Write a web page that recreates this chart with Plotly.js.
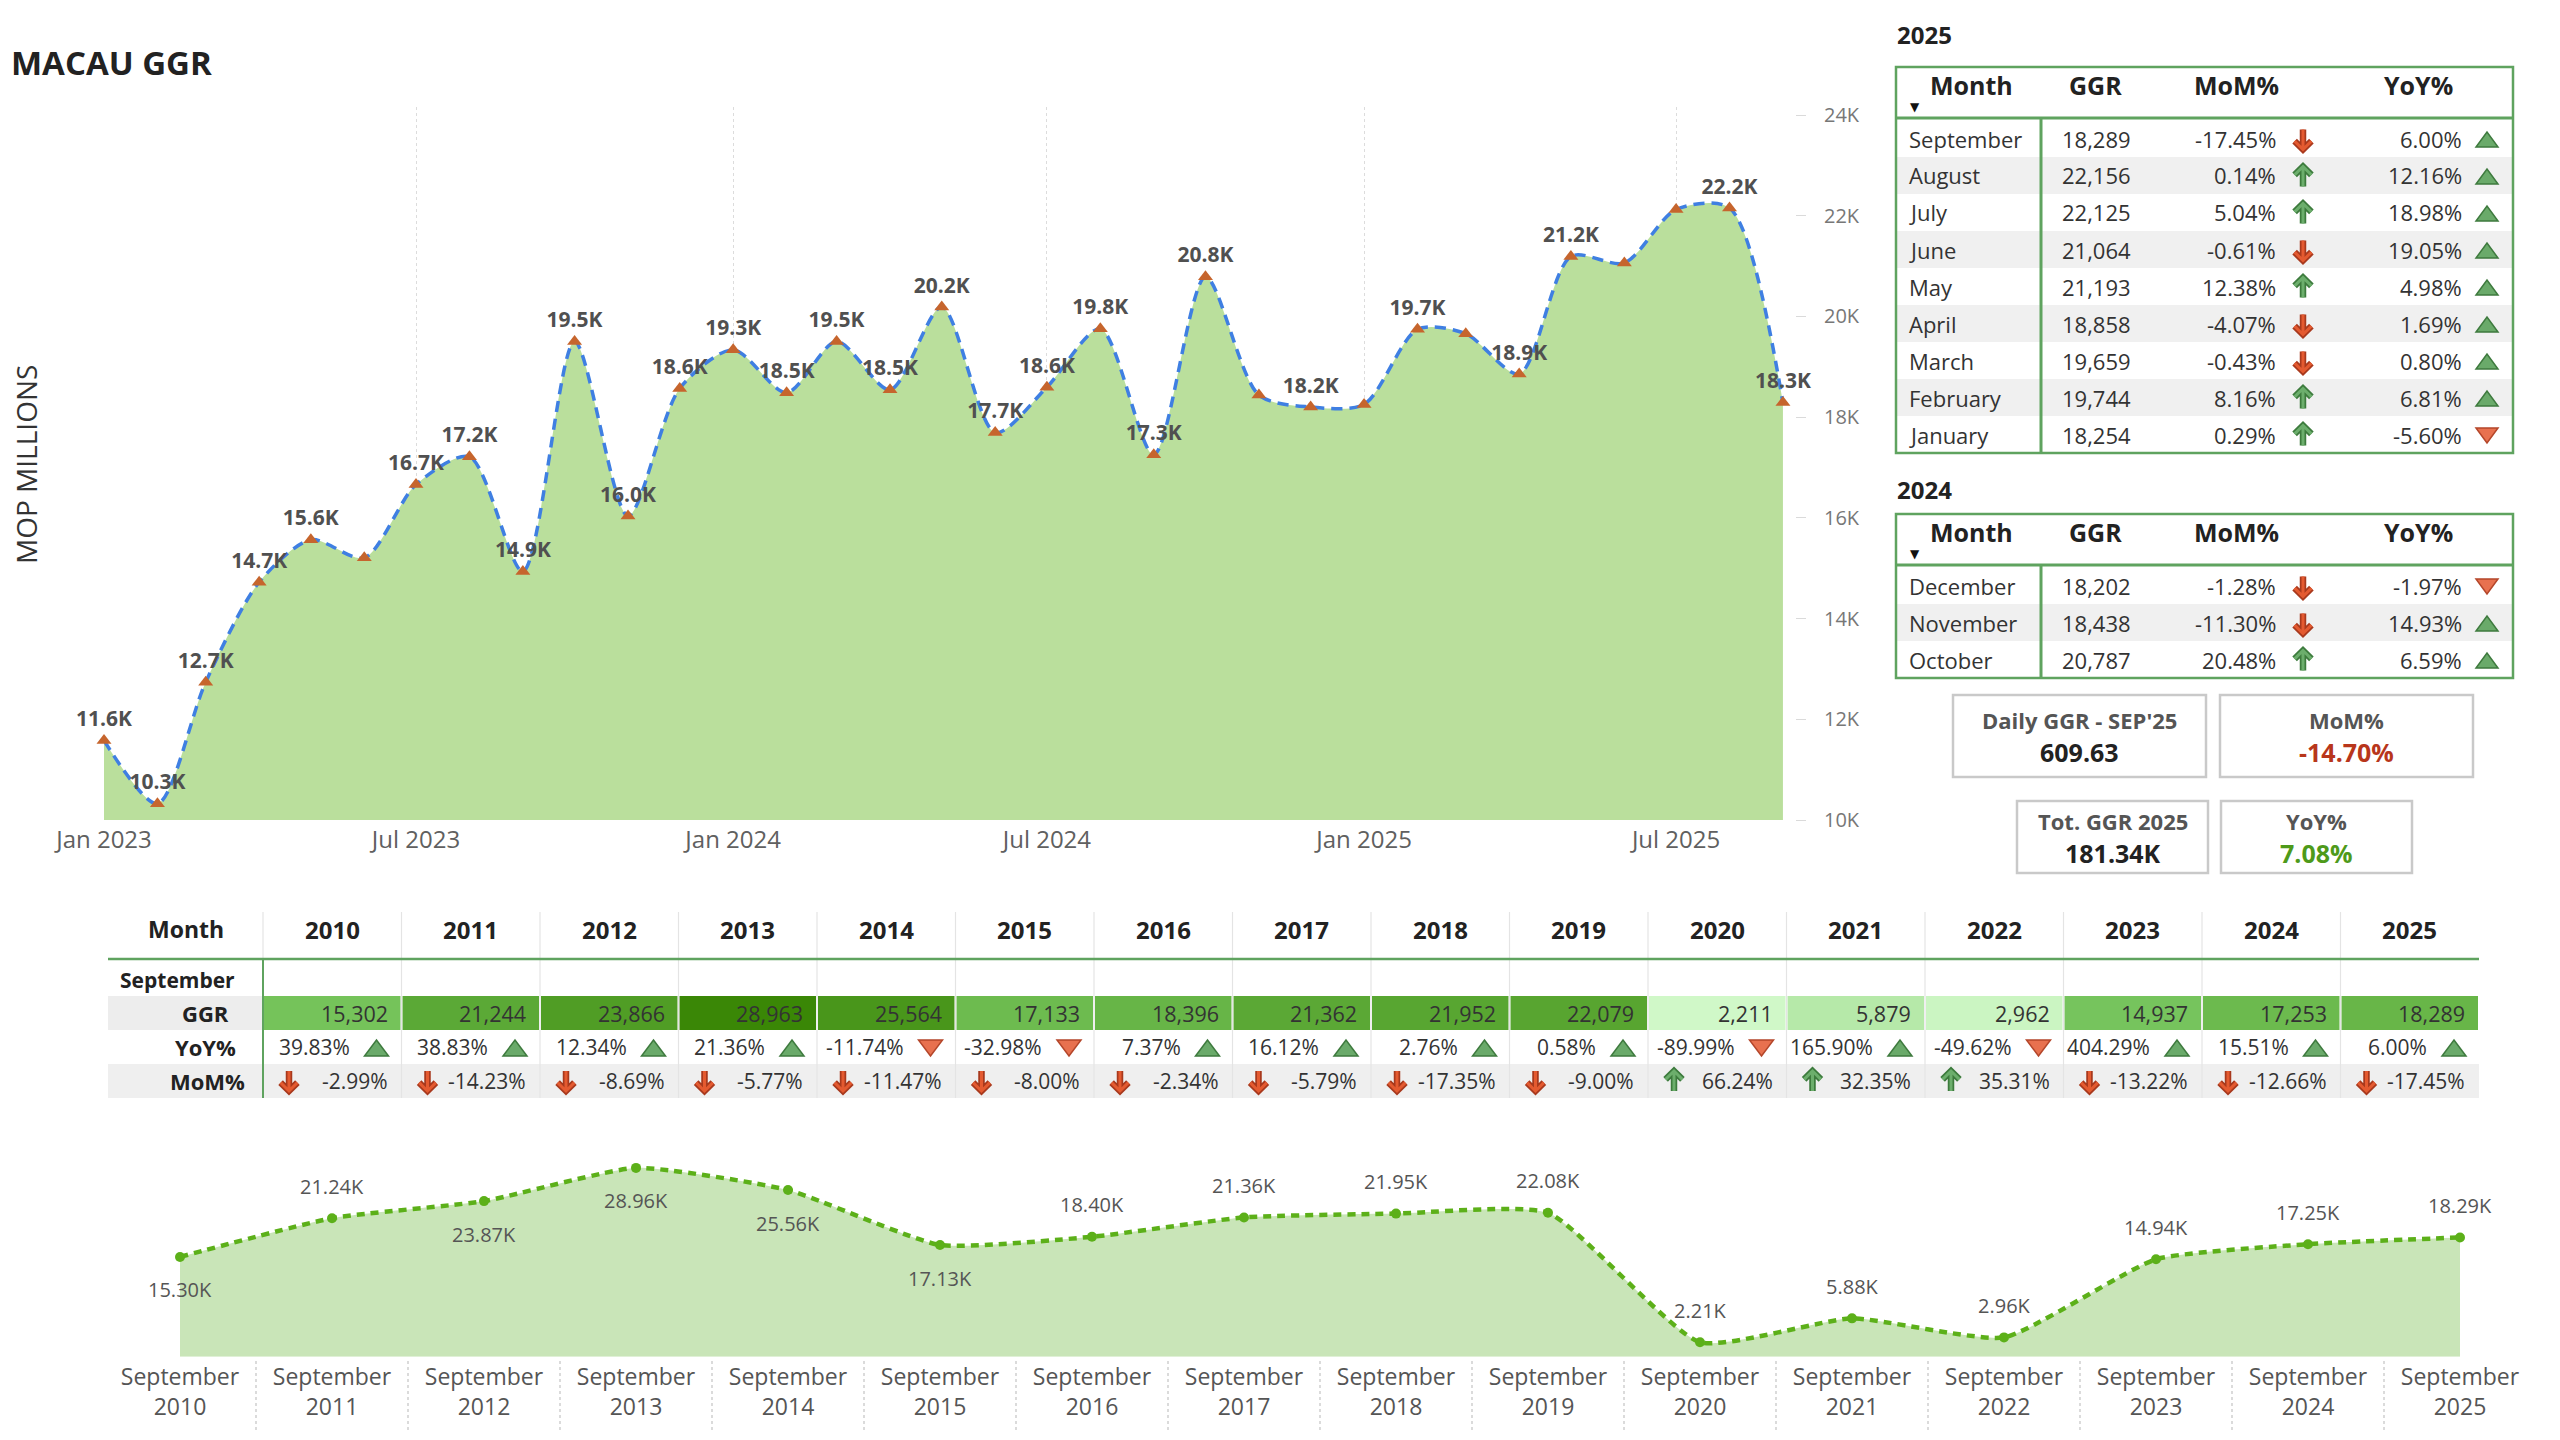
<!DOCTYPE html>
<html>
<head>
<meta charset="utf-8">
<script src="https://cdn.plot.ly/plotly-3.0.1.min.js"></script>
<style>
  html, body { margin: 0; padding: 0; background: #ffffff; }
  #dash { width: 2560px; height: 1440px; }
</style>
</head>
<body>
<div id="dash"></div>
<script>
// ---- Monthly gross gaming revenue (MOP millions) ----
const monthDates = [
  '2023-01-01','2023-02-01','2023-03-01','2023-04-01','2023-05-01','2023-06-01',
  '2023-07-01','2023-08-01','2023-09-01','2023-10-01','2023-11-01','2023-12-01',
  '2024-01-01','2024-02-01','2024-03-01','2024-04-01','2024-05-01','2024-06-01',
  '2024-07-01','2024-08-01','2024-09-01','2024-10-01','2024-11-01','2024-12-01',
  '2025-01-01','2025-02-01','2025-03-01','2025-04-01','2025-05-01','2025-06-01',
  '2025-07-01','2025-08-01','2025-09-01'
];
const monthlyGGR = [
  11580, 10324, 12738, 14722, 15565, 15207, 16662, 17213, 14937, 19501, 16038, 18571,
  19337, 18486, 19503, 18545, 20188, 17694, 18596, 19754, 17253, 20787, 18438, 18202,
  18254, 19744, 19659, 18858, 21193, 21064, 22125, 22156, 18289
];
// months whose data label is left out to avoid crowding
const unlabeledMonths = ['2023-06-01', '2024-11-01', '2025-01-01', '2025-03-01', '2025-06-01', '2025-07-01'];

// ---- 2025 / 2024 monthly tables ----
const months2025 = ['September','August','July','June','May','April','March','February','January'];
const ggr2025 = [18289, 22156, 22125, 21064, 21193, 18858, 19659, 19744, 18254];
const mom2025 = [-17.45, 0.14, 5.04, -0.61, 12.38, -4.07, -0.43, 8.16, 0.29];
const yoy2025 = [6.00, 12.16, 18.98, 19.05, 4.98, 1.69, 0.80, 6.81, -5.60];

const months2024 = ['December','November','October'];
const ggr2024 = [18202, 18438, 20787];
const mom2024 = [-1.28, -11.30, 20.48];
const yoy2024 = [-1.97, 14.93, 6.59];

const tableHeaders = ['Month', 'GGR', 'MoM%', 'YoY%'];

// ---- September of every year ----
const sepYears = ['2010','2011','2012','2013','2014','2015','2016','2017',
                  '2018','2019','2020','2021','2022','2023','2024','2025'];
const sepGGR = [15302, 21244, 23866, 28963, 25564, 17133, 18396, 21362,
                21952, 22079, 2211, 5879, 2962, 14937, 17253, 18289];
const sepYoY = [39.83, 38.83, 12.34, 21.36, -11.74, -32.98, 7.37, 16.12,
                2.76, 0.58, -89.99, 165.90, -49.62, 404.29, 15.51, 6.00];
const sepMoM = [-2.99, -14.23, -8.69, -5.77, -11.47, -8.00, -2.34, -5.79,
                -17.35, -9.00, 66.24, 32.35, 35.31, -13.22, -12.66, -17.45];
const sepRowLabels = ['GGR', 'YoY%', 'MoM%'];
// September labels that sit under their point
const sepLabelsBelow = ['2010', '2012', '2013', '2014', '2015'];

// ---------------------------------------------------------------
const W = 2560, H = 1440;
const FONT = 'Open Sans, Roboto, sans-serif';
const SYM = 'DejaVu Sans, sans-serif';
const GREEN_LINE = '#5FA35F';
const X = px => px / W;
const Y = py => 1 - py / H;
const annotations = [];
const shapes = [];

function txt(text, x, y, o = {}) {
  annotations.push({
    xref: 'paper', yref: 'paper', x: X(x), y: Y(y), text: text, showarrow: false,
    xanchor: o.anchor || 'left', yanchor: 'middle', textangle: o.angle || 0,
    font: { family: o.family || FONT, size: o.size || 22, color: o.color || '#333', weight: o.weight || 400 }
  });
}
function rect(x0, y0, x1, y1, fill, line, lw) {
  shapes.push({
    type: 'rect', xref: 'paper', yref: 'paper', layer: 'below',
    x0: X(x0), x1: X(x1), y0: Y(y1), y1: Y(y0),
    fillcolor: fill || 'rgba(0,0,0,0)',
    line: { color: line || 'rgba(0,0,0,0)', width: lw || 0 }
  });
}
function seg(x0, y0, x1, y1, color, width, dash) {
  shapes.push({
    type: 'line', xref: 'paper', yref: 'paper', layer: 'below',
    x0: X(x0), x1: X(x1), y0: Y(y0), y1: Y(y1),
    line: { color: color, width: width, dash: dash || 'solid' }
  });
}
function pathOf(pts) {
  return pts.map((p, i) => (p === null ? '' : ((i === 0 || pts[i - 1] === null) ? 'M ' : 'L ') + X(p[0]) + ',' + Y(p[1]) + ' ')).join('');
}
const fmtInt = v => v.toLocaleString('en-US');
const fmtPct = v => v.toFixed(2) + '%';

// outlined arrow icon: red pointing down for a fall, green pointing up for a rise
function arrowIcon(v, x, y, s) {
  const d = v < 0 ? 1 : -1, h = s / 2, arm = s * 0.42;
  const tipY = y + d * h, tailY = y - d * h;
  const p = pathOf([[x, tailY], [x, tipY], null,
                    [x - arm, tipY - d * arm], [x, tipY], [x + arm, tipY - d * arm]]);
  const dark = v < 0 ? '#A8391D' : '#3D7B3D';
  const light = v < 0 ? '#E45A30' : '#6CAE6C';
  shapes.push({ type: 'path', xref: 'paper', yref: 'paper', path: p, line: { color: dark, width: 6.5 } });
  shapes.push({ type: 'path', xref: 'paper', yref: 'paper', path: p, line: { color: light, width: 3 } });
}
// outlined triangle icon
function triIcon(v, x, y, w, h) {
  const up = v >= 0;
  const pts = up ? [[x - w / 2, y + h / 2], [x + w / 2, y + h / 2], [x, y - h / 2]]
                 : [[x - w / 2, y - h / 2], [x + w / 2, y - h / 2], [x, y + h / 2]];
  shapes.push({ type: 'path', xref: 'paper', yref: 'paper', path: pathOf(pts) + 'Z',
    fillcolor: up ? '#6AAA6A' : '#E8714F', line: { color: up ? '#3E7A3E' : '#B4462A', width: 1.5 } });
}

// ---- Title and axis caption ----
txt('MACAU GGR', 9, 63, { size: 33, weight: 700, color: '#222' });
txt('MOP MILLIONS', 26, 465, { size: 28, color: '#333', angle: -90, anchor: 'center' });

// ---- Monthly tables on the right ----
function monthTable(title, titleY, top, months, ggr, mom, yoy) {
  const L = 1896, R = 2513, split = 2041, rowH = 37;
  const headBottom = top + 51;
  const rowsTop = headBottom + 2;
  const bottom = rowsTop + rowH * months.length;
  txt(title, 1895, titleY, { size: 24, weight: 700, color: '#222' });
  const headX = [1971, 2095, 2236, 2418];
  tableHeaders.forEach((h, i) => txt(h, headX[i], top + 18, { size: 25, weight: 700, color: '#222', anchor: 'center' }));
  txt('▼', 1915, top + 40, { family: SYM, size: 12, color: '#111', anchor: 'center' });
  months.forEach((m, i) => {
    const y0 = rowsTop + rowH * i, cy = y0 + rowH / 2;
    if (i % 2 === 1) rect(L, y0, R, y0 + rowH, '#F0F0F0');
    txt(m, 1907, cy, { size: 22 });
    txt(fmtInt(ggr[i]), 2133, cy, { size: 22, anchor: 'right' });
    txt(fmtPct(mom[i]), 2278, cy, { size: 22, anchor: 'right' });
    arrowIcon(mom[i], 2303, cy + 1, 20);
    txt(fmtPct(yoy[i]), 2464, cy, { size: 22, anchor: 'right' });
    triIcon(yoy[i], 2487, cy + 1, 22, 15);
  });
  rect(L, top, R, bottom, null, GREEN_LINE, 2.5);
  seg(L, headBottom, R, headBottom, GREEN_LINE, 3);
  seg(split, headBottom, split, bottom, GREEN_LINE, 3);
}
monthTable('2025', 34, 67, months2025, ggr2025, mom2025, yoy2025);
monthTable('2024', 489, 514, months2024, ggr2024, mom2024, yoy2024);

// ---- KPI cards, derived from the monthly series ----
const last = monthlyGGR.length - 1;
const daysIn = d => new Date(Number(d.slice(0, 4)), Number(d.slice(5, 7)), 0).getDate();
const dailyNow = monthlyGGR[last] / daysIn(monthDates[last]);
const dailyPrev = monthlyGGR[last - 1] / daysIn(monthDates[last - 1]);
const dailyMoM = (dailyNow / dailyPrev - 1) * 100;
const ytd = (yr, upto) => monthDates.reduce((s, d, i) =>
  (d.slice(0, 4) === yr && Number(d.slice(5, 7)) <= upto) ? s + monthlyGGR[i] : s, 0);
const lastMonthNo = Number(monthDates[last].slice(5, 7));
const total2025 = ytd('2025', lastMonthNo);
const total2024 = ytd('2024', lastMonthNo);
const totalYoY = (total2025 / total2024 - 1) * 100;

function card(x0, y0, x1, y1, title, value, valueColor) {
  rect(x0, y0, x1, y1, '#ffffff', '#C9C9C9', 2.5);
  const cx = (x0 + x1) / 2, mid = (y0 + y1) / 2;
  txt(title, cx, mid - 16, { size: 22, weight: 700, color: '#555', anchor: 'center' });
  txt(value, cx, mid + 16, { size: 25, weight: 700, color: valueColor, anchor: 'center' });
}
card(1953, 695, 2206, 777, "Daily GGR - SEP'25", dailyNow.toFixed(2), '#222');
card(2220, 695, 2473, 777, 'MoM%', dailyMoM.toFixed(2) + '%', dailyMoM < 0 ? '#B8361B' : '#4E9A1A');
card(2017, 801, 2208, 873, 'Tot. GGR 2025', (total2025 / 1000).toFixed(2) + 'K', '#222');
card(2221, 801, 2412, 873, 'YoY%', totalYoY.toFixed(2) + '%', totalYoY < 0 ? '#B8361B' : '#4E9A1A');

// ---- September matrix ----
(function () {
  const L = 108, colL = 263, R = 2479;
  const colW = (R - colL) / sepYears.length;
  const rows = { sept: [963, 996], ggr: [996, 1030], yoy: [1030, 1064], mom: [1064, 1098] };
  const cy = r => (r[0] + r[1]) / 2;
  // three-stop green scale: lowest value, 15K midpoint, highest value
  const gMin = Math.min(...sepGGR), gMax = Math.max(...sepGGR), gMid = 15000;
  const cLo = [208, 248, 200], cMid = [118, 196, 92], cHi = [58, 135, 6];
  const mix = (a, b, t) => 'rgb(' + a.map((c, k) => Math.round(c + (b[k] - c) * t)).join(',') + ')';
  const shade = v => v <= gMid ? mix(cLo, cMid, (v - gMin) / (gMid - gMin))
                               : mix(cMid, cHi, (v - gMid) / (gMax - gMid));
  // row backgrounds
  rect(L, rows.ggr[0], colL, rows.ggr[1], '#EDEDED');
  rect(L, rows.mom[0], R, rows.mom[1], '#EFEFEF');
  // header
  txt('Month', 186, 929, { size: 23, weight: 700, color: '#222', anchor: 'center' });
  sepYears.forEach((yr, i) => {
    const x0 = colL + colW * i, x1 = x0 + colW;
    txt(yr, (x0 + x1) / 2, 929, { size: 24, weight: 700, color: '#222', anchor: 'center' });
    rect(x0 + 1, rows.ggr[0], x1 - 1, rows.ggr[1], shade(sepGGR[i]));
    txt(fmtInt(sepGGR[i]), x1 - 12, cy(rows.ggr), { size: 21.5, color: '#333', anchor: 'right' });
    txt(fmtPct(sepYoY[i]), x1 - 50, cy(rows.yoy), { size: 21, color: '#333', anchor: 'right' });
    triIcon(sepYoY[i], x1 - 25, cy(rows.yoy) + 1, 24, 16);
    arrowIcon(sepMoM[i], x0 + 26, cy(rows.mom), 20);
    txt(fmtPct(sepMoM[i]), x1 - 12, cy(rows.mom), { size: 21, color: '#333', anchor: 'right' });
    if (i > 0) seg(x0, 912, x0, rows.mom[1], '#E4E4E4', 1.2);
  });
  seg(colL, 912, colL, 958, '#E4E4E4', 1.2);
  txt('September', 118, cy(rows.sept), { size: 21, weight: 700, color: '#222' });
  const labelX = [205, 205, 207];
  [rows.ggr, rows.yoy, rows.mom].forEach((r, k) =>
    txt(sepRowLabels[k], labelX[k], cy(r), { size: 22, weight: 700, color: '#222', anchor: 'center' }));
  seg(L, 959, R, 959, GREEN_LINE, 2.5);
  seg(colL, 959, colL, rows.mom[1], GREEN_LINE, 2);
})();

// ---- Category separators under the September trend ----
for (let i = 0; i < sepYears.length - 1; i++) {
  shapes.push({
    type: 'line', xref: 'x2', yref: 'paper', layer: 'below',
    x0: i + 0.5, x1: i + 0.5, y0: Y(1430), y1: Y(1361),
    line: { color: '#CFCFCF', width: 1.5, dash: 'dot' }
  });
}
// September value labels
sepYears.forEach((yr, i) => {
  const below = sepLabelsBelow.includes(yr);
  annotations.push({
    xref: 'x2', yref: 'y2', x: i, y: sepGGR[i], showarrow: false,
    text: (sepGGR[i] / 1000).toFixed(2) + 'K', yshift: below ? -33 : 32,
    xanchor: 'center', yanchor: 'middle',
    font: { family: FONT, size: 20, color: '#555' }
  });
});

// ---- Traces ----
const monthlyTrace = {
  type: 'scatter', mode: 'lines+markers+text',
  x: monthDates, y: monthlyGGR, xaxis: 'x', yaxis: 'y',
  text: monthDates.map((d, i) => unlabeledMonths.includes(d) ? '' : (monthlyGGR[i] / 1000).toFixed(1) + 'K'),
  textposition: 'top center',
  textfont: { family: FONT, size: 21, weight: 700, color: '#505050' },
  cliponaxis: false,
  line: { color: '#3F7FE2', width: 3.5, dash: '11px,7px', shape: 'spline', smoothing: 0.8 },
  marker: { symbol: 'triangle-up', size: 13, color: '#C6652D' },
  fill: 'tozeroy', fillcolor: '#BADF9C',
  hoverinfo: 'skip'
};
const septTrace = {
  type: 'scatter', mode: 'lines+markers',
  x: sepYears.map(y => 'September<br>' + y), y: sepGGR, xaxis: 'x2', yaxis: 'y2',
  line: { color: '#5CB019', width: 4.5, dash: '8px,6px', shape: 'spline', smoothing: 0.5 },
  marker: { symbol: 'circle', size: 10, color: '#5CB019' },
  fill: 'tozeroy', fillcolor: '#C9E5B8',
  cliponaxis: false,
  hoverinfo: 'skip'
};

const layout = {
  width: W, height: H,
  margin: { l: 0, r: 0, t: 0, b: 0 },
  paper_bgcolor: '#ffffff', plot_bgcolor: 'rgba(0,0,0,0)',
  showlegend: false, hovermode: false,
  font: { family: FONT, color: '#333' },
  xaxis: {
    domain: [X(104), X(1795)], anchor: 'y',
    type: 'date', range: ['2023-01-01', '2025-09-08'],
    tick0: '2023-01-01', dtick: 'M6', tickformat: '%b %Y',
    showgrid: true, gridcolor: '#DCDCDC', griddash: 'dot', gridwidth: 1,
    zeroline: false, showline: false, ticks: '',
    tickfont: { family: FONT, size: 24, color: '#606060' },
    ticklabelstandoff: 3
  },
  yaxis: {
    domain: [Y(820), Y(107)], anchor: 'x', side: 'right',
    range: [10000, 24160],
    tickvals: [10000, 12000, 14000, 16000, 18000, 20000, 22000, 24000],
    ticktext: ['10K', '12K', '14K', '16K', '18K', '20K', '22K', '24K'],
    showgrid: false, zeroline: false, showline: false,
    ticks: 'outside', ticklen: 10, tickcolor: '#DADADA', tickwidth: 1,
    tickfont: { family: FONT, size: 20, color: '#777' },
    ticklabelstandoff: 14
  },
  xaxis2: {
    domain: [X(104), X(2536)], anchor: 'y2',
    type: 'category', range: [-0.5, sepYears.length - 0.5],
    showgrid: false, zeroline: false, showline: false, ticks: '',
    tickfont: { family: FONT, size: 23, color: '#555' },
    ticklabelstandoff: 4
  },
  yaxis2: {
    domain: [Y(1356.7), Y(1122)], anchor: 'x2',
    range: [0, 36000], visible: false, showgrid: false, zeroline: false
  },
  annotations: annotations,
  shapes: shapes
};

Plotly.newPlot('dash', [monthlyTrace, septTrace], layout, { staticPlot: true, displayModeBar: false });
</script>
</body>
</html>
